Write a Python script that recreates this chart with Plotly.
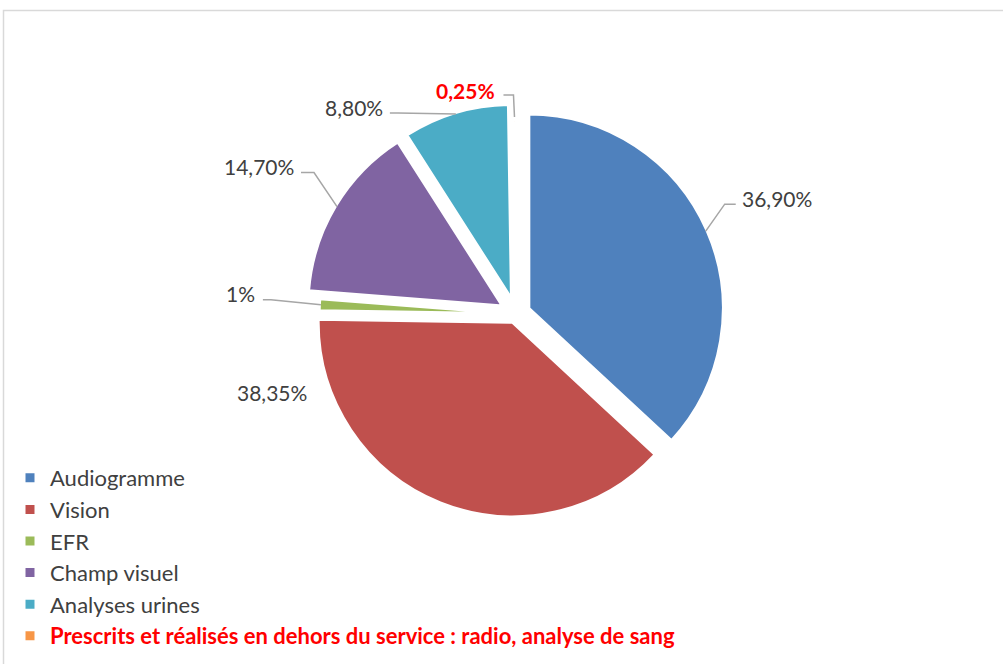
import math
import plotly.graph_objects as go

# ---------------- data ----------------
categories = [
    "Audiogramme",
    "Vision",
    "EFR",
    "Champ visuel",
    "Analyses urines",
    "Prescrits et réalisés en dehors du service : radio, analyse de sang",
]
values = [36.90, 38.35, 1.00, 14.70, 8.80, 0.25]
value_labels = ["36,90%", "38,35%", "1%", "14,70%", "8,80%", "0,25%"]

# ---------------- style ----------------
colors = ["#4F81BD", "#C0504D", "#9BBB59", "#8064A2", "#4BACC6", "#F79646"]
pulls = [0.072, 0.046, 0.012, 0.081, 0.081, 0.0]
highlight = [False, False, False, False, False, True]
FONT = "Lato"
TXT = "#404040"
LINE = "#A6A6A6"
EDGE = 3                            # white slice outline width (px)

W, H = 1003, 664
CX, CY, R = 516, 314, 194.5         # pie centre / radius in pixels

# label placement (pixels): elbow relative to slice anchor, horizontal run,
# text offset relative to the end of the leader line
label_layout = [
    dict(elbow=(19, -27), run=11, txt=(4, -6), xanchor="left"),
    dict(elbow=None, run=0, txt=(-169, -109), xanchor="center"),
    dict(elbow=(-50, -5), run=-8, txt=(-6, -6), xanchor="right"),
    dict(elbow=(-23, -34), run=-13, txt=(-5, -6), xanchor="right"),
    dict(elbow=(-58, -1), run=-8, txt=(-5, -6), xanchor="right"),
    dict(elbow=(-1, -22), run=-10, txt=(-6, -5), xanchor="right"),
]


def px(x):
    return x / W


def py(y):
    return 1 - y / H


half = R * (1 + max(pulls))
domain = dict(x=[px(CX - half), px(CX + half)], y=[py(CY + half), py(CY - half)])

legend_names = []
for name, hl in zip(categories, highlight):
    if hl:
        legend_names.append("<b><span style='color:#FF0000'>" + name + "</span></b>")
    else:
        legend_names.append(name)

fig = go.Figure(
    go.Pie(
        labels=legend_names,
        values=values,
        sort=False,
        direction="clockwise",
        rotation=0,
        pull=pulls,
        marker=dict(colors=colors, line=dict(width=EDGE, color="white")),
        textinfo="none",
        hoverinfo="label+percent",
        domain=domain,
    )
)

# ---------------- data labels with leader lines ----------------
total = sum(values)
cum = 0.0
shapes = []
annotations = []
for i, v in enumerate(values):
    mid = 2 * math.pi * (cum + v / 2) / total
    cum += v
    dx, dy = math.sin(mid), -math.cos(mid)
    rr = R * (1 + pulls[i]) - EDGE / 2
    ax, ay = CX + rr * dx, CY + rr * dy
    lay = label_layout[i]
    if lay["elbow"] is not None:
        if i == len(values) - 1:
            ay -= 4
        ex, ey = ax + lay["elbow"][0], ay + lay["elbow"][1]
        hx = ex + lay["run"]
        shapes.append(dict(
            type="path", xref="paper", yref="paper",
            path=f"M {px(ax)} {py(ay)} L {px(ex)} {py(ey)} L {px(hx)} {py(ey)}",
            line=dict(color=LINE, width=1.5),
        ))
        tx, ty = hx + lay["txt"][0], ey + lay["txt"][1]
    else:
        tx, ty = ax + lay["txt"][0], ay + lay["txt"][1]
    if highlight[i]:
        text = "<b>" + value_labels[i] + "</b>"
        color = "#FF0000"
    else:
        text = value_labels[i]
        color = TXT
    annotations.append(dict(
        x=px(tx), y=py(ty), xref="paper", yref="paper",
        text=text, showarrow=False, xanchor=lay["xanchor"], yanchor="middle",
        font=dict(family=FONT, size=21, color=color),
    ))

# chart border
shapes.append(dict(
    type="rect", xref="paper", yref="paper",
    x0=px(3.5), y0=py(10.5), x1=1.02, y1=-0.02,
    line=dict(color="#D9D9D9", width=1.5), fillcolor="rgba(0,0,0,0)", layer="below",
))

fig.update_layout(
    width=W, height=H,
    margin=dict(l=0, r=0, t=0, b=0),
    paper_bgcolor="white",
    plot_bgcolor="white",
    font=dict(family=FONT, size=22, color=TXT),
    showlegend=True,
    legend=dict(
        x=px(10), y=py(457), xanchor="left", yanchor="top",
        font=dict(family=FONT, size=22, color=TXT),
        bgcolor="rgba(0,0,0,0)",
        traceorder="normal",
    ),
    shapes=shapes,
    annotations=annotations,
)

fig.write_html(
    "out.html",
    config={"displayModeBar": False},
    post_script="document.body.style.margin='0';document.body.style.overflow='hidden';",
)
